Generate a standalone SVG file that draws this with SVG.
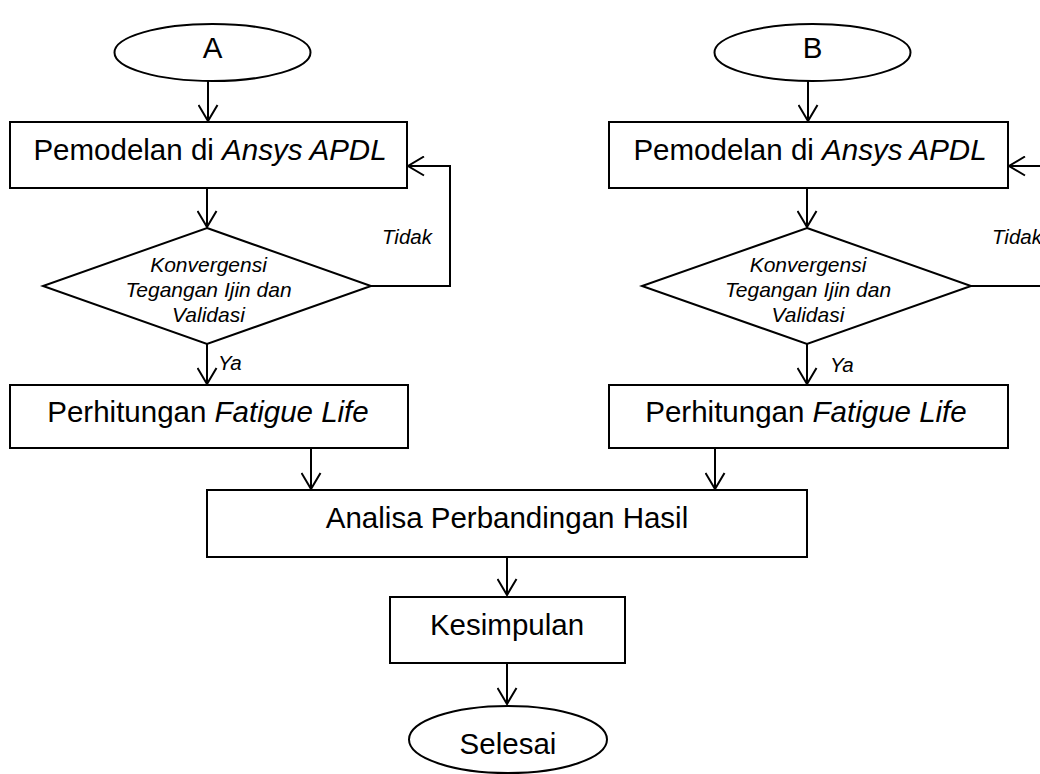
<svg xmlns="http://www.w3.org/2000/svg" width="1040" height="774" viewBox="0 0 1040 774">
<defs>
<style>
.shape{fill:#fff;stroke:#000;stroke-width:2}
.conn{fill:none;stroke:#000;stroke-width:2}
.t{font-family:"Liberation Sans",Arial,sans-serif;font-size:29.5px;fill:#000;text-anchor:middle}
.d{font-family:"Liberation Sans",Arial,sans-serif;font-size:21px;font-style:italic;fill:#000;text-anchor:middle}
.l{font-family:"Liberation Sans",Arial,sans-serif;font-size:20.5px;font-style:italic;fill:#000}
.i{font-style:italic}
</style>
<marker id="arr" viewBox="0 0 19 21" refX="17" refY="10.5" markerWidth="19" markerHeight="21" markerUnits="userSpaceOnUse" orient="auto">
<path d="M1,1 L17,10.5 L1,20" fill="none" stroke="#000" stroke-width="2"/>
</marker>
</defs>
<rect width="1040" height="774" fill="#fff"/>
<g id="connectors">
<line class="conn" x1="208" y1="81" x2="208" y2="121" marker-end="url(#arr)"/>
<line class="conn" x1="207" y1="188" x2="207" y2="227" marker-end="url(#arr)"/>
<line class="conn" x1="207" y1="344" x2="207" y2="384" marker-end="url(#arr)"/>
<polyline class="conn" points="371,286 450,286 450,166 408,166" marker-end="url(#arr)"/>
<line class="conn" x1="808" y1="81" x2="808" y2="121" marker-end="url(#arr)"/>
<line class="conn" x1="807" y1="188" x2="807" y2="227" marker-end="url(#arr)"/>
<line class="conn" x1="807" y1="344" x2="807" y2="384" marker-end="url(#arr)"/>
<line class="conn" x1="971" y1="286" x2="1042" y2="286"/>
<line class="conn" x1="1042" y1="166" x2="1009" y2="166" marker-end="url(#arr)"/>
<line class="conn" x1="311" y1="449" x2="311" y2="489" marker-end="url(#arr)"/>
<line class="conn" x1="715" y1="449" x2="715" y2="489" marker-end="url(#arr)"/>
<line class="conn" x1="507" y1="557" x2="507" y2="595" marker-end="url(#arr)"/>
<line class="conn" x1="507" y1="663" x2="507" y2="704" marker-end="url(#arr)"/>
<text class="l" x="382" y="244">Tidak</text>
<text class="l" x="218" y="370">Ya</text>
<text class="l" x="992" y="244">Tidak</text>
<text class="l" x="830" y="372">Ya</text>
</g>
<g id="startA">
<ellipse class="shape" cx="212.5" cy="52.5" rx="98" ry="28.5"/>
<text class="t" x="212.5" y="58">A</text>
</g>
<g id="modelA">
<rect class="shape" x="10" y="122" width="397" height="66"/>
<text class="t" x="210" y="160">Pemodelan di <tspan class="i">Ansys APDL</tspan></text>
</g>
<g id="decisionA">
<polygon class="shape" points="207,228 371,286 207,344 43,286"/>
<text class="d" x="208.5" y="272">Konvergensi</text>
<text class="d" x="208.5" y="297">Tegangan Ijin dan</text>
<text class="d" x="208.5" y="321.5">Validasi</text>
</g>
<g id="fatigueA">
<rect class="shape" x="10" y="385" width="398" height="63"/>
<text class="t" x="208" y="422">Perhitungan <tspan class="i">Fatigue Life</tspan></text>
</g>
<g id="startB">
<ellipse class="shape" cx="812.5" cy="52.5" rx="98" ry="28.5"/>
<text class="t" x="812.5" y="58">B</text>
</g>
<g id="modelB">
<rect class="shape" x="609" y="122" width="399" height="66"/>
<text class="t" x="810" y="160">Pemodelan di <tspan class="i">Ansys APDL</tspan></text>
</g>
<g id="decisionB">
<polygon class="shape" points="807,228 971,286 807,344 642,286"/>
<text class="d" x="808" y="272">Konvergensi</text>
<text class="d" x="808" y="297">Tegangan Ijin dan</text>
<text class="d" x="808" y="321.5">Validasi</text>
</g>
<g id="fatigueB">
<rect class="shape" x="609" y="385" width="399" height="63"/>
<text class="t" x="806" y="422">Perhitungan <tspan class="i">Fatigue Life</tspan></text>
</g>
<g id="analisa">
<rect class="shape" x="207" y="490" width="600" height="67"/>
<text class="t" x="507" y="528">Analisa Perbandingan Hasil</text>
</g>
<g id="kesimpulan">
<rect class="shape" x="390" y="597" width="235" height="66"/>
<text class="t" x="507" y="635">Kesimpulan</text>
</g>
<g id="selesai">
<ellipse class="shape" cx="508" cy="739.5" rx="99" ry="33.5"/>
<text class="t" x="508" y="754">Selesai</text>
</g>
</svg>
